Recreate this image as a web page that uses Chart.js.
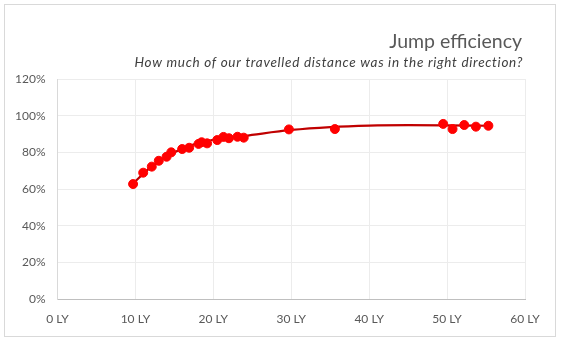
<!DOCTYPE html>
<html>
<head>
<meta charset="utf-8">
<script src="https://cdn.jsdelivr.net/npm/chart.js@4"></script>
<style>
  body { margin: 0; background: #fff; }
  #wrap { width: 561px; height: 343px; position: relative; }
</style>
</head>
<body>
<div id="wrap"><canvas id="myChart"></canvas></div>
<script>
// jump distance (LY) vs share of distance travelled in the right direction
const jumpDist = [9.7, 11.0, 12.1, 13.0, 14.0, 14.6, 16.0, 16.9, 18.1, 18.5, 19.2, 20.5, 21.3, 22.0, 23.1, 23.9,
                  29.7, 35.6, 49.5, 50.7, 52.2, 53.7, 55.3];
const efficiency = [0.627, 0.689, 0.722, 0.754, 0.776, 0.800, 0.818, 0.825, 0.846, 0.855, 0.849, 0.867, 0.884, 0.877, 0.885, 0.880,
                    0.925, 0.927, 0.955, 0.927, 0.949, 0.940, 0.945];

// trend curve
const trendX = [9.7, 12, 15, 18, 21, 24, 30, 35, 40, 45, 50, 55.3];
const trendY = [0.63, 0.72, 0.80, 0.85, 0.875, 0.89, 0.922, 0.938, 0.946, 0.948, 0.947, 0.945];

const xTicks = [0, 10, 20, 30, 40, 50, 60];
const yTicks = [0, 0.2, 0.4, 0.6, 0.8, 1.0, 1.2];

const titleText = "Jump efficiency";
const subtitleText = "How much of our travelled distance was in the right direction?";

const FONT = "Lato, 'Open Sans', sans-serif";

const frameAndTitles = {
  id: "frameAndTitles",
  afterDraw(chart) {
    const ctx = chart.ctx;
    ctx.save();
    ctx.strokeStyle = "#d9d9d9";
    ctx.lineWidth = 1;
    ctx.strokeRect(4.5, 4.5, 551, 332);

    ctx.textAlign = "right";
    ctx.textBaseline = "middle";
    ctx.fillStyle = "#595959";
    ctx.font = "19.5px " + FONT;
    ctx.fillText(titleText, 522, 42);
    ctx.fillStyle = "#404040";
    ctx.font = "italic 13.5px " + FONT;
    ctx.letterSpacing = "0.7px";
    ctx.fillText(subtitleText, 523, 63);
    ctx.restore();
  }
};

const points = jumpDist.map((x, i) => ({x: x, y: efficiency[i]}));
const trend = trendX.map((x, i) => ({x: x, y: trendY[i]}));

const chart = new Chart("myChart", {
  type: "scatter",
  data: {
    datasets: [
      {
        label: "Efficiency",
        data: points,
        backgroundColor: "#ff0000",
        borderColor: "#ff0000",
        pointRadius: 4.5,
        pointHoverRadius: 4.5,
        showLine: false
      },
      {
        label: "Trend",
        data: trend,
        showLine: true,
        borderColor: "#c00000",
        borderWidth: 2.25,
        pointRadius: 0,
        cubicInterpolationMode: "monotone",
        fill: false
      }
    ]
  },
  options: {
    responsive: true,
    maintainAspectRatio: false,
    animation: false,
    events: [],
    layout: {padding: {top: 79, right: 36, bottom: 14, left: 0}},
    plugins: {
      legend: {display: false},
      tooltip: {enabled: false}
    },
    scales: {
      x: {
        type: "linear",
        min: 0,
        max: 60,
        afterBuildTicks: s => { s.ticks = xTicks.map(v => ({value: v})); },
        afterFit: s => { s.height = 30; },
        grid: {color: "#ececec", drawTicks: false},
        border: {color: "#bfbfbf"},
        ticks: {
          padding: 13,
          color: "#595959",
          font: {family: FONT, size: 12},
          callback: v => v + " LY"
        }
      },
      y: {
        min: 0,
        max: 1.2,
        afterBuildTicks: s => { s.ticks = yTicks.map(v => ({value: v})); },
        afterFit: s => { s.width = 57.5; },
        grid: {color: "#ececec", drawTicks: false},
        border: {color: "#d9d9d9"},
        ticks: {
          padding: 12,
          color: "#595959",
          font: {family: FONT, size: 12},
          callback: v => Math.round(v * 100) + "%"
        }
      }
    }
  },
  plugins: [frameAndTitles]
});
</script>
</body>
</html>
